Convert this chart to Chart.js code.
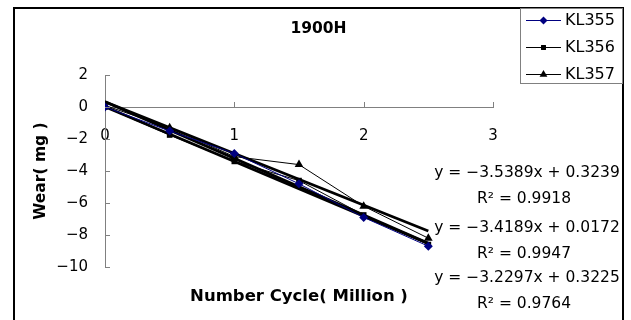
<!DOCTYPE html>
<html lang="en">
<head>
<meta charset="UTF-8">
<title>1900H</title>
<script src="https://cdn.jsdelivr.net/npm/chart.js"></script>
<style>
    html, body { margin: 0; padding: 0; background: #fff; }
    #wrap { width: 631px; height: 320px; }
</style>
</head>
<body>
<div id="wrap"><canvas id="wearChart" width="631" height="320"></canvas></div>
<script>
// Data
const cycles = [0, 0.5, 1, 1.5, 2, 2.5];
const seriesNames = ['KL355', 'KL356', 'KL357'];
const kl355 = [0, -1.5, -2.9, -4.8, -6.9, -8.7];
const kl356 = [0, -1.75, -3.4, -4.6, -6.75, -8.6];
const kl357 = [0.1, -1.3, -3.1, -3.6, -6.2, -8.2];

// Linear trendlines as printed on the chart
const slopes = [-3.5389, -3.4189, -3.2297];
const intercepts = [0.3239, 0.0172, 0.3225];
const rSquared = ['0.9918', '0.9947', '0.9764'];
const trendRange = [0, 2.5];

const xTicks = [0, 1, 2, 3];
const yTicks = [2, 0, -2, -4, -6, -8, -10];

const FONT = 'DejaVu Sans';
const minus = s => String(s).replace('-', '\u2212');

const seriesValues = [kl355, kl356, kl357];
const seriesColors = ['#000080', '#000000', '#000000'];
const seriesPoints = ['rectRot', 'rect', 'triangle'];
const seriesRadius = [4.5, 4, 5];

const dataSets = seriesValues.map((vals, i) => ({
    label: seriesNames[i],
    data: cycles.map((x, j) => ({ x: x, y: vals[j] })),
    borderColor: seriesColors[i],
    backgroundColor: seriesColors[i],
    borderWidth: 1,
    pointStyle: seriesPoints[i],
    pointRadius: seriesRadius[i],
    pointBorderWidth: 0,
    tension: 0
}));

const trendSets = slopes.map((m, i) => ({
    label: 'trend ' + seriesNames[i],
    data: trendRange.map(x => ({ x: x, y: m * x + intercepts[i] })),
    borderColor: '#000000',
    borderWidth: 2.8,
    pointRadius: 0,
    tension: 0
}));

const extras = {
    id: 'extras',
    afterDraw(chart) {
        const ctx = chart.ctx;
        const xs = chart.scales.x, ys = chart.scales.y;
        const x0 = xs.getPixelForValue(0), y0 = ys.getPixelForValue(0);
        ctx.save();
        // tick marks (inside)
        ctx.strokeStyle = '#808080';
        ctx.lineWidth = 1;
        ctx.beginPath();
        xTicks.slice(1).forEach(v => {
            const px = Math.round(xs.getPixelForValue(v)) + 0.5;
            ctx.moveTo(px, y0 - 5); ctx.lineTo(px, y0);
        });
        yTicks.forEach(v => {
            const py = Math.round(ys.getPixelForValue(v)) + 0.5;
            ctx.moveTo(x0, py); ctx.lineTo(x0 + 5, py);
        });
        ctx.stroke();

        // trendline equations
        ctx.fillStyle = '#000';
        ctx.font = '15.5px "' + FONT + '"';
        ctx.textAlign = 'center';
        ctx.textBaseline = 'middle';
        const eqY = [173, 228, 278];
        slopes.forEach((m, i) => {
            ctx.fillText('y = ' + minus(m.toFixed(4)) + 'x + ' + intercepts[i].toFixed(4), 527, eqY[i]);
            ctx.fillText('R\u00B2 = ' + rSquared[i], 524, eqY[i] + 26);
        });

        // outer frame
        ctx.strokeStyle = '#000';
        ctx.lineWidth = 2;
        ctx.strokeRect(14, 8, 609, 330);

        // legend
        ctx.fillStyle = '#fff';
        ctx.fillRect(520, 8, 102, 75);
        ctx.strokeStyle = '#808080';
        ctx.lineWidth = 1;
        ctx.strokeRect(520.5, 8.5, 102, 75);
        ctx.font = '16px "' + FONT + '"';
        ctx.textAlign = 'left';
        seriesNames.forEach((name, i) => {
            const ry = 20 + i * 27;
            ctx.strokeStyle = seriesColors[i];
            ctx.beginPath();
            ctx.moveTo(526, ry + 0.5); ctx.lineTo(561, ry + 0.5);
            ctx.stroke();
            ctx.fillStyle = seriesColors[i];
            Chart.helpers.drawPoint(ctx, {
                pointStyle: seriesPoints[i], radius: seriesRadius[i] - 0.5,
                rotation: 0, borderWidth: 0
            }, 543.5, ry + 0.5);
            ctx.fillStyle = '#000';
            ctx.fillText(name, 565, ry + 1);
        });
        ctx.restore();
    }
};

new Chart(document.getElementById('wearChart'), {
    type: 'line',
    data: { datasets: dataSets.concat(trendSets) },
    options: {
        responsive: false,
        animation: false,
        layout: { padding: { left: 14, right: 8, top: 0, bottom: 0 } },
        plugins: {
            legend: { display: false },
            tooltip: { enabled: false },
            title: {
                display: true,
                text: '1900H',
                color: '#000',
                font: { family: FONT, size: 15.5, weight: 'bold' },
                padding: { top: 20, bottom: 36.4 }
            }
        },
        scales: {
            x: {
                type: 'linear',
                min: 0, max: 3,
                position: { y: 0 },
                grid: { drawOnChartArea: false, drawTicks: false },
                border: { display: true, color: '#808080' },
                ticks: { stepSize: 1, padding: 20, color: '#000', font: { family: FONT, size: 15 } }
            },
            xb: {
                type: 'linear',
                position: 'bottom',
                min: 0, max: 3,
                grid: { display: false, drawTicks: false },
                border: { display: false },
                ticks: { display: false },
                title: {
                    display: true,
                    text: 'Number Cycle( Million )',
                    color: '#000',
                    font: { family: FONT, size: 16.5, weight: 'bold' },
                    padding: { top: 20, bottom: 13.2 }
                }
            },
            y: {
                min: -10, max: 2,
                afterFit(scale) { scale.width = 91; },
                grid: { drawOnChartArea: false, drawTicks: false },
                border: { display: true, color: '#808080' },
                ticks: {
                    stepSize: 2, padding: 17, color: '#000',
                    font: { family: FONT, size: 15 },
                    callback: v => minus(v)
                },
                title: {
                    display: true,
                    text: 'Wear( mg )',
                    color: '#000',
                    font: { family: FONT, size: 15.5, weight: 'bold' },
                    padding: { top: 17.7, bottom: 0 }
                }
            },
            yr: {
                type: 'linear',
                position: 'right',
                min: -10, max: 2,
                afterFit(scale) { scale.width = 130; },
                grid: { display: false, drawTicks: false },
                border: { display: false },
                ticks: { display: false }
            }
        }
    },
    plugins: [extras]
});
</script>
</body>
</html>
